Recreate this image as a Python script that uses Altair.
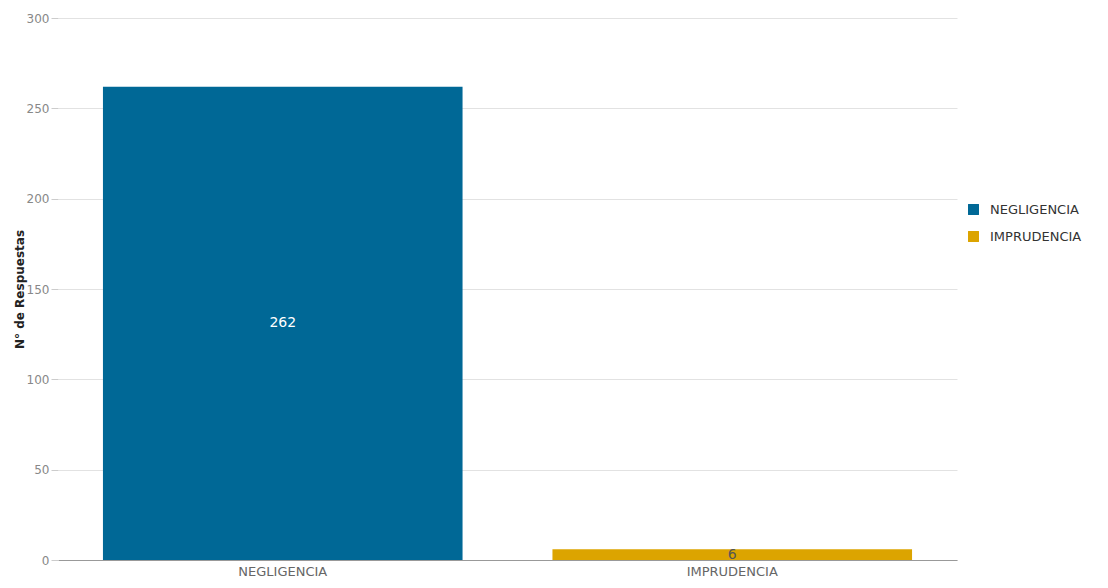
import altair as alt
import pandas as pd

categories = ["NEGLIGENCIA", "IMPRUDENCIA"]
values = [262, 6]
colors = ["#006896", "#DCA400"]
label_colors = ["#ffffff", "#555555"]

df = pd.DataFrame({
    "cat": categories,
    "val": values,
    "half": [v / 2 for v in values],
    "lab": [str(v) for v in values],
    "lc": label_colors,
})

x = alt.X("cat:N", sort=categories, scale=alt.Scale(paddingInner=0.2, paddingOuter=0.1),
          axis=alt.Axis(title=None, labelAngle=0, labelColor="#666666", labelFontSize=13,
                        labelFont="DejaVu Sans", ticks=False, domainColor="#999999", labelPadding=5))

bars = alt.Chart(df).mark_bar().encode(
    x=x,
    y=alt.Y("val:Q", scale=alt.Scale(domain=[0, 300]),
            axis=alt.Axis(title="N° de Respuestas", values=[0, 50, 100, 150, 200, 250, 300],
                          labelColor="#888888", labelFontSize=12, labelFont="DejaVu Sans",
                          tickColor="#cccccc", tickSize=7, domain=False, gridColor="#e2e2e2",
                          titleFontSize=12, titleFont="DejaVu Sans", titleFontWeight="bold",
                          titleColor="#222222", titlePadding=0)),
    color=alt.Color("cat:N", sort=categories,
                    scale=alt.Scale(domain=categories, range=colors),
                    legend=alt.Legend(title=None, orient="none", legendX=909, legendY=185,
                                      symbolType="square", symbolSize=120, symbolStrokeWidth=0,
                                      labelFontSize=13, labelFont="DejaVu Sans",
                                      labelColor="#333333", rowPadding=13, labelOffset=10)),
)

texts = alt.Chart(df).mark_text(fontSize=14, font="DejaVu Sans", baseline="middle").encode(
    x=alt.X("cat:N", sort=categories),
    y=alt.Y("half:Q"),
    text="lab:N",
    color=alt.Color("lc:N", scale=None, legend=None),
)

chart = alt.layer(bars, texts).properties(
    width=899, height=542,
    background="white",
    autosize=alt.AutoSizeParams(type="none"),
    padding={"left": 58, "top": 18, "right": 151, "bottom": 28},
).configure_view(strokeWidth=0, stroke="transparent")

chart.save("out.html", embed_options={"renderer": "svg", "actions": False})
